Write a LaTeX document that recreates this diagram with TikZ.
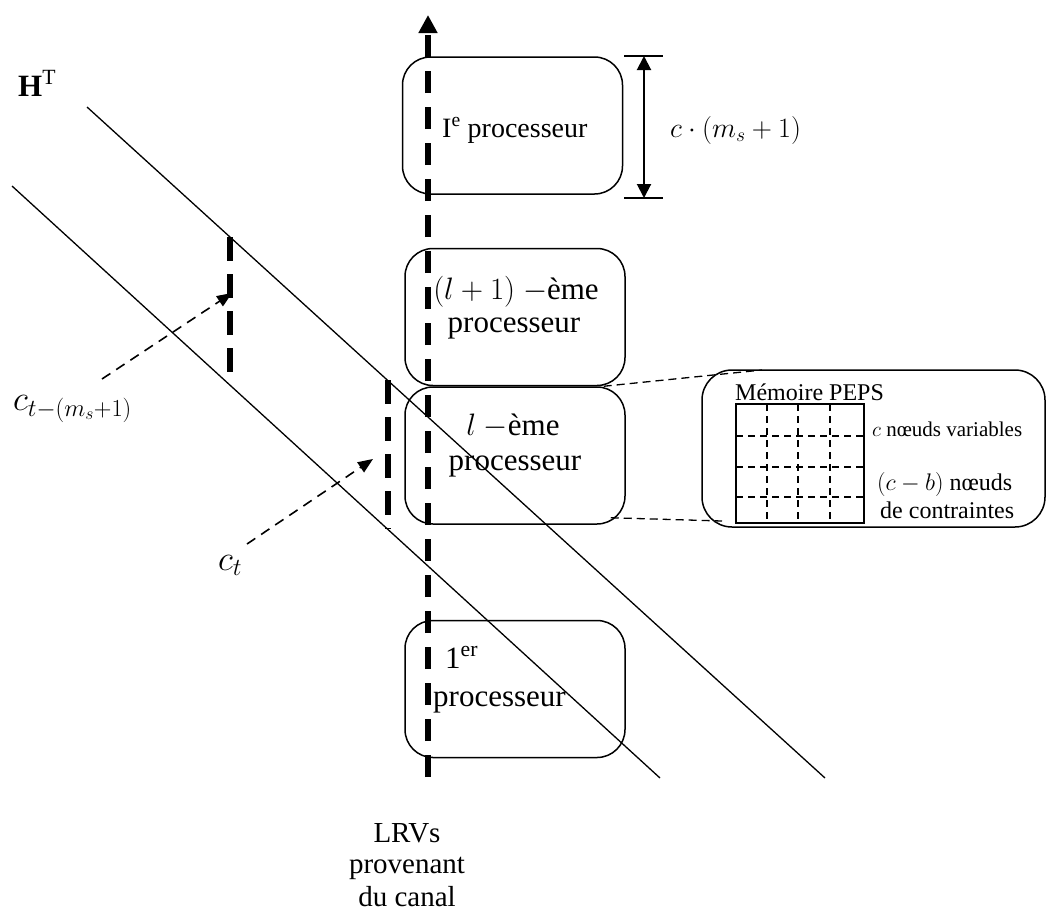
\RequirePackage{fix-cm}
\documentclass[tikz,border=0pt]{standalone}
\usepackage{fontspec}
\setmainfont{Liberation Serif}
\usetikzlibrary{arrows.meta}
\tikzset{
  proc/.style={draw, line width=1.5pt, rounded corners=28pt, minimum width=220pt, minimum height=137pt, inner sep=0pt},
  membox/.style={draw, line width=1.5pt, rounded corners=30pt, minimum width=343pt, minimum height=157pt, inner sep=0pt},
  txt/.style={inner sep=0pt, font=\fontsize{31}{33}\selectfont},
  txtsm/.style={inner sep=0pt, font=\fontsize{28}{30}\selectfont},
  mathlab/.style={inner sep=0pt, font=\fontsize{35}{37}\selectfont},
  memtxt/.style={inner sep=0pt, font=\fontsize{24}{26}\selectfont},
  memtxtsm/.style={inner sep=0pt, font=\fontsize{21}{23}\selectfont},
  diag/.style={line width=1.3pt},
  bus/.style={line width=5.5pt, dash pattern=on 22pt off 14pt, -{Triangle[length=18pt,width=18pt]}},
  rung/.style={line width=6pt, dash pattern=on 24pt off 13pt},
  ptr/.style={line width=1.6pt, dash pattern=on 10pt off 7pt, -{Triangle[length=15pt,width=12pt]}},
  zoomline/.style={line width=1.3pt, dash pattern=on 8pt off 5pt},
  dimline/.style={line width=2pt, {Triangle[length=14pt,width=14pt]}-{Triangle[length=14pt,width=14pt]}},
  gridline/.style={line width=1.2pt, dash pattern=on 7pt off 5pt},
}
\begin{document}
\begin{tikzpicture}[x=1pt,y=-1pt]
\useasboundingbox (0,0) rectangle (1047,914);

% diagonal lines
\coordinate (a1) at (87,107);
\coordinate (a2) at (825,778);
\coordinate (c1) at (12,186);
\coordinate (c2) at (660,778);
\draw[diag] (a1) -- (a2);
\draw[diag] (c1) -- (c2);

% processor boxes
\node[proc] (b1) at (512.5,125.5) {};
\node[proc] (b2) at (515,317) {};
\node[proc] (b3) at (515,455.5) {};
\node[proc] (b4) at (515,689) {};

% bus
\coordinate (busS) at (428,777);
\coordinate (busN) at (428,15);
\draw[bus] (busS) -- (busN);

% rungs
\coordinate (r1t) at (230,237);
\coordinate (r1b) at (230,381);
\coordinate (r2t) at (388,380);
\coordinate (r2b) at (388,529);
\draw[rung] (r1t) -- (r1b);
\draw[rung] (r2t) -- (r2b);

% texts in boxes
\node[txtsm, anchor=base west] (t1) at (442,137) {I\textsuperscript{e} processeur};
\node[txt, anchor=base] (t2a) at (516,299) {$(l+1)$ $-$ème};
\node[txt, anchor=base] (t2b) at (514,332) {processeur};
\node[txt, anchor=base] (t3a) at (513,435) {$l$ $-$ème};
\node[txt, anchor=base] (t3b) at (515,470) {processeur};
\node[txt, anchor=base west] (t4a) at (445,668) {1\textsuperscript{er}};
\node[txt, anchor=base west] (t4b) at (433,706) {processeur};

% dimension
\coordinate (dT) at (644,56);
\coordinate (dB) at (644,198);
\coordinate (dT1) at (624,56);
\coordinate (dT2) at (663,56);
\coordinate (dB1) at (624,198);
\coordinate (dB2) at (663,198);
\draw[line width=1.3pt] (dT1) -- (dT2);
\draw[line width=1.3pt] (dB1) -- (dB2);
\draw[dimline] (dT) -- (dB);
\node[txtsm, anchor=base west] (dimlab) at (670,137) {$c\cdot(m_s+1)$};

% labels
\node[txt, anchor=base west] (HT) at (18,96) {$\mathbf{H}^{\mathrm{T}}$};
\node[mathlab, anchor=base west] (cm) at (13,410) {$c_{t-(m_s+1)}$};
\node[mathlab, anchor=base west] (ct) at (218,570) {$c_t$};

% pointer arrows
\coordinate (p1s) at (102,379);
\coordinate (p1e) at (232,293);
\coordinate (p2s) at (247,544);
\coordinate (p2e) at (373,459);
\draw[ptr] (p1s) -- (p1e);
\draw[ptr] (p2s) -- (p2e);

% LRVs label
\node[inner sep=0pt, font=\fontsize{29}{33}\selectfont, anchor=base] (lrv1) at (407,842) {LRVs};
\node[inner sep=0pt, font=\fontsize{29}{33}\selectfont, anchor=base] (lrv2) at (407,873) {provenant};
\node[inner sep=0pt, font=\fontsize{29}{33}\selectfont, anchor=base] (lrv3) at (407,906) {du canal};

% memory box
\node[membox] (mem) at (873.5,448.5) {};
\coordinate (mtop) at (762,370);
\coordinate (mbot) at (722,521);
\draw[zoomline] ([xshift=-22pt]b2.south east) -- (mtop);
\draw[zoomline] ([xshift=-15pt,yshift=7pt]b3.south east) -- (mbot);

\node[memtxt, anchor=base west] (memt) at (735,400) {Mémoire PEPS};
% grid
\draw[gridline] (767,404) -- (767,523);
\draw[gridline] (798,404) -- (798,523);
\draw[gridline] (830,404) -- (830,523);
\draw[gridline] (736,436) -- (864,436);
\draw[gridline] (736,467) -- (864,467);
\draw[gridline] (736,497) -- (864,497);
\draw[line width=1.8pt] (736,404) rectangle (864,523);

\node[memtxtsm, anchor=base west] (mv) at (872,436) {$c$ nœuds variables};
\node[memtxt, anchor=base west] (mc1) at (877,490) {$(c-b)$ nœuds};
\node[memtxt, anchor=base west] (mc2) at (880,518) {de contraintes};
\end{tikzpicture}
\end{document}
